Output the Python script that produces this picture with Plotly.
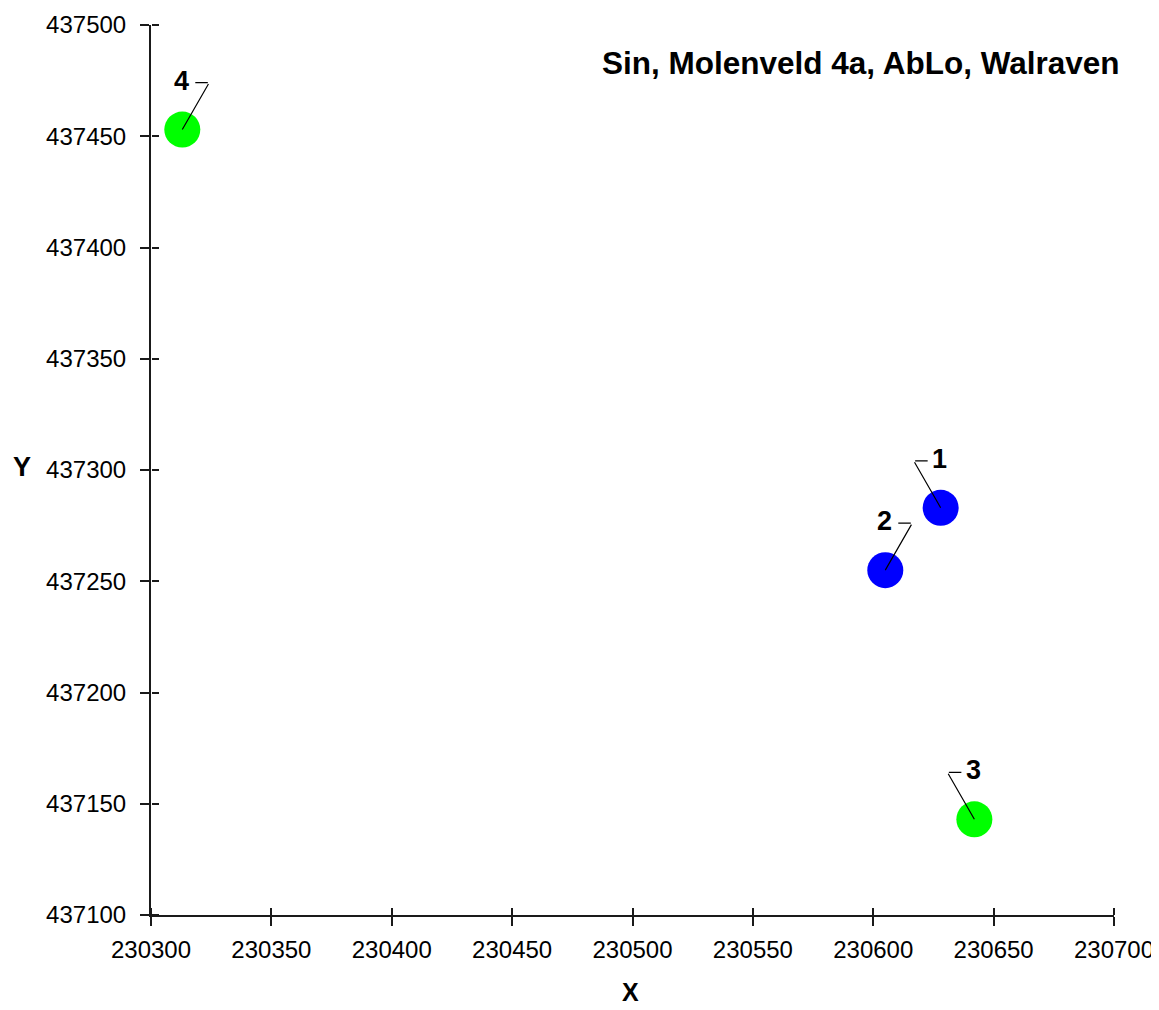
import plotly.graph_objects as go

# ---- data ----
point_labels = ["1", "2", "3", "4"]
x_values = [230628, 230605, 230642, 230313]
y_values = [437283, 437255, 437143, 437453]
point_colors = ["#0000FF", "#0000FF", "#00FF00", "#00FF00"]

x_range = [230300, 230700]
y_range = [437100, 437500]
x_ticks = [230300, 230350, 230400, 230450, 230500, 230550, 230600, 230650, 230700]
y_ticks = [437100, 437150, 437200, 437250, 437300, 437350, 437400, 437450, 437500]

title_text = "Sin, Molenveld 4a, AbLo, Walraven"

# leader-line styling (elbow direction: +1 right, -1 left)
elbow_dir = [-1, 1, -1, 1]

FONT = "Liberation Sans, Arial, sans-serif"
AX = "#1a1a1a"

fig = go.Figure()
fig.add_trace(go.Scatter(
    x=x_values, y=y_values, mode="markers",
    marker=dict(size=36, color=point_colors, line=dict(width=0)),
    hoverinfo="skip", showlegend=False,
))

common = dict(showgrid=False, zeroline=False, automargin=False)
fig.update_layout(
    width=1151, height=1002,
    margin=dict(l=143, r=45, t=17, b=95),
    paper_bgcolor="white", plot_bgcolor="white",
    font=dict(family=FONT, color="black"),
    xaxis=dict(range=x_range, tickvals=x_ticks, ticktext=[str(v) for v in x_ticks],
               ticks="outside", ticklen=9, tickwidth=1.5, tickcolor=AX,
               showline=True, linecolor=AX, linewidth=2,
               tickfont=dict(size=24, family=FONT, color="black"),
               ticklabelstandoff=3, **common),
    yaxis=dict(range=y_range, tickvals=y_ticks, ticktext=[str(v) for v in y_ticks],
               ticks="outside", ticklen=9, tickwidth=1.5, tickcolor=AX,
               showline=True, linecolor=AX, linewidth=2,
               tickfont=dict(size=24, family=FONT, color="black"),
               ticklabelstandoff=9, **common),
    # flipped-side companion axes to draw the inward half of each tick
    xaxis2=dict(range=x_range, tickvals=x_ticks, overlaying="x", anchor="free",
                position=0, side="top", ticks="outside", ticklen=7, tickwidth=1.5,
                tickcolor=AX, showticklabels=False, showline=False, **common),
    yaxis2=dict(range=y_range, tickvals=y_ticks, overlaying="y", anchor="free",
                position=0, side="right", ticks="outside", ticklen=7, tickwidth=1.5,
                tickcolor=AX, showticklabels=False, showline=False, **common),
)
fig.add_trace(go.Scatter(x=[x_values[0]], y=[y_values[0]], xaxis="x2", yaxis="y2",
                         mode="markers", marker=dict(size=1, opacity=0),
                         hoverinfo="skip", showlegend=False))

for lab, xv, yv, d in zip(point_labels, x_values, y_values, elbow_dir):
    # diagonal leader from point to elbow
    fig.add_annotation(x=xv, y=yv, ax=27 * d, ay=-47, text="", showarrow=True,
                       arrowhead=0, arrowwidth=1.2, arrowcolor="black", standoff=0)
    # short horizontal stub from elbow towards label
    fig.add_annotation(x=xv, y=yv, xshift=13 * d, yshift=47, ax=14 * d, ay=0,
                       text="", showarrow=True, arrowhead=0, arrowwidth=1.2,
                       arrowcolor="black", standoff=0)
    # number label
    fig.add_annotation(x=xv, y=yv, xshift=-1, yshift=49, text="<b>%s</b>" % lab,
                       showarrow=False, font=dict(size=27, family=FONT, color="black"))

fig.add_annotation(xref="paper", yref="paper", x=1.0083, y=0.957, xanchor="right",
                   yanchor="middle", text="<b>%s</b>" % title_text, showarrow=False,
                   font=dict(size=31.5, family=FONT, color="black"))
fig.add_annotation(xref="paper", yref="paper", x=0.498, y=-0.087, xanchor="center",
                   yanchor="middle", text="<b>X</b>", showarrow=False,
                   font=dict(size=25, family=FONT, color="black"))
fig.add_annotation(xref="paper", yref="paper", x=-0.134, y=0.503, xanchor="center",
                   yanchor="middle", text="<b>Y</b>", showarrow=False,
                   font=dict(size=27, family=FONT, color="black"))

fig.write_html("out.html")
